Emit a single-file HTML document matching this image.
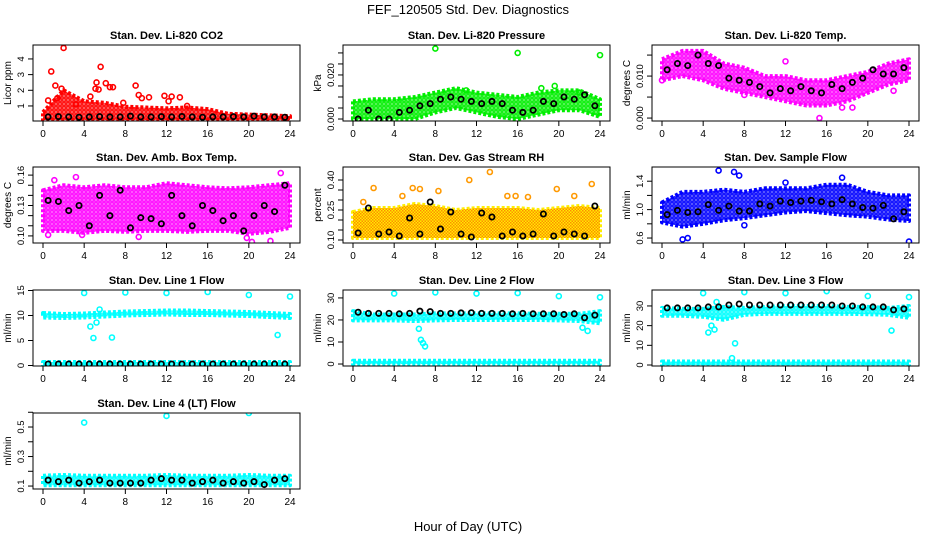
<!DOCTYPE html>
<html><head><meta charset="utf-8"><style>
body{margin:0;background:#fff;}
svg{display:block;font-family:"Liberation Sans",Arial,sans-serif;}
</style></head><body>
<svg id="c" width="936" height="540" viewBox="0 0 936 540">
<text x="468" y="14" text-anchor="middle" font-size="13">FEF_120505  Std. Dev. Diagnostics</text>
<text x="468" y="531" text-anchor="middle" font-size="13">Hour of Day (UTC)</text>
</svg>
<script>
// shared time bases (hours)
const bandHours=[0,2,4,6,8,10,12,14,16,18,20,22,24];
const blackHours=[0.5,1.5,2.5,3.5,4.5,5.5,6.5,7.5,8.5,9.5,10.5,11.5,12.5,13.5,14.5,15.5,16.5,17.5,18.5,19.5,20.5,21.5,22.5,23.5];
const xTicks=[0,4,8,12,16,20,24];

// P1 CO2
const co2Lo=[0.1,0.1,0.1,0.1,0.1,0.1,0.1,0.1,0.1,0.1,0.1,0.1,0.1];
const co2Hi=[0.6,2.0,1.3,1.2,0.95,0.9,0.85,0.9,0.8,0.5,0.45,0.4,0.35];
const co2OutX=[2,0.8,1.2,5.6,5.2,5.1,5.4,6.1,6.5,6.8,9,4.6,0.5,9.3,10.3,11.8,13.3,12.5,1.8,1.4,3.2,7.8,12.2,9.6,14];
const co2OutY=[4.7,3.2,2.3,3.5,2.5,2.1,2.05,2.45,2.2,2.2,2.3,1.6,1.35,1.7,1.55,1.65,1.55,1.6,2.1,1.5,1.1,1.2,1.3,1.5,1.0];
const co2Black=[0.3,0.32,0.3,0.28,0.3,0.32,0.3,0.3,0.35,0.3,0.3,0.32,0.3,0.33,0.3,0.28,0.3,0.3,0.32,0.3,0.35,0.3,0.3,0.28];
// P2 Pressure
const prLo=[0.000,0.000,0.000,0.000,0.003,0.005,0.003,0.001,0.000,0.002,0.004,0.004,0.001];
const prHi=[0.008,0.009,0.009,0.010,0.012,0.014,0.012,0.011,0.010,0.012,0.013,0.013,0.009];
const prOutX=[8,16,24,19.6,18.3,11,22];
const prOutY=[0.032,0.030,0.029,0.015,0.014,0.013,0.012];
const prBlack=[0,0.004,0,0,0.003,0.004,0.006,0.007,0.009,0.010,0.009,0.008,0.007,0.008,0.007,0.004,0.003,0.004,0.008,0.007,0.010,0.009,0.011,0.006];
// P3 Temp
const tpLo=[0.009,0.010,0.009,0.007,0.006,0.005,0.004,0.003,0.003,0.004,0.006,0.008,0.009];
const tpHi=[0.014,0.016,0.016,0.013,0.012,0.010,0.010,0.009,0.009,0.010,0.011,0.013,0.014];
const tpOutX=[15.3,12,8,17.5,18.5,0,22.5];
const tpOutY=[0.0,0.0135,0.0055,0.0025,0.0025,0.009,0.0065];
const tpBlack=[0.0115,0.013,0.0125,0.015,0.013,0.0125,0.0095,0.009,0.0085,0.0075,0.006,0.007,0.0065,0.0075,0.0065,0.006,0.008,0.007,0.0085,0.0095,0.0115,0.0105,0.0105,0.012];
// P4 Ambient box temp
const abLo=[0.105,0.105,0.103,0.105,0.104,0.105,0.105,0.104,0.105,0.105,0.102,0.104,0.108];
const abHi=[0.145,0.15,0.148,0.15,0.148,0.148,0.152,0.15,0.148,0.147,0.148,0.15,0.152];
const abOutX=[0.5,1.1,3.2,23.1,19.8,20.3,22.1,3.8,9.3];
const abOutY=[0.101,0.155,0.158,0.162,0.098,0.094,0.095,0.101,0.099];
const abBlack=[0.135,0.134,0.125,0.13,0.11,0.14,0.12,0.145,0.108,0.118,0.117,0.112,0.14,0.12,0.11,0.13,0.125,0.115,0.12,0.105,0.12,0.13,0.124,0.15];
// P5 Gas stream RH
const rhLo=[0.11,0.11,0.11,0.11,0.11,0.11,0.11,0.11,0.11,0.11,0.11,0.11,0.11];
const rhHi=[0.24,0.26,0.26,0.28,0.27,0.25,0.26,0.26,0.26,0.25,0.26,0.27,0.26];
const rhOutX=[2,4.8,5.8,6.5,8.3,11.3,13.3,15,15.8,17,19.8,21.5,23.2,1];
const rhOutY=[0.36,0.32,0.36,0.355,0.345,0.40,0.44,0.32,0.32,0.315,0.355,0.32,0.38,0.29];
const rhBlack=[0.135,0.26,0.13,0.14,0.12,0.21,0.13,0.29,0.155,0.24,0.13,0.115,0.235,0.215,0.12,0.14,0.12,0.13,0.23,0.12,0.14,0.13,0.12,0.27];
// P6 Sample flow
const sfLo=[0.82,0.76,0.8,0.85,0.88,0.92,0.96,0.98,0.95,0.92,0.9,0.86,0.84];
const sfHi=[1.1,1.25,1.25,1.28,1.25,1.3,1.3,1.3,1.35,1.35,1.25,1.2,1.2];
const sfOutX=[2,2.5,5.5,7,7.5,8,24,17.5,12];
const sfOutY=[0.58,0.6,1.55,1.53,1.48,0.78,0.55,1.45,1.38];
const sfBlack=[0.93,0.99,0.96,0.97,1.07,0.99,1.05,0.98,0.98,1.08,1.05,1.12,1.1,1.12,1.13,1.11,1.08,1.14,1.08,1.03,1.02,1.06,0.87,0.97];
// P7 Line 1
const l1Lo=[9.6,9.5,9.6,9.8,10,10.1,10.2,10.1,10.1,10,9.9,9.7,9.5];
const l1Hi=[10.5,10.3,10.4,10.6,10.8,10.9,11,11,10.9,10.8,10.7,10.5,10.3];
const l1bLo=[0,0,0,0,0,0,0,0,0,0,0,0,0];
const l1bHi=[0.7,0.7,0.7,0.7,0.7,0.7,0.7,0.7,0.7,0.7,0.7,0.7,0.7];
const l1OutX=[4,8,12,16,20,24,4.6,4.9,5.2,6.7,22.8,5.5];
const l1OutY=[14.5,14.6,14.5,14.7,14.1,13.8,7.8,5.5,8.6,5.6,6.1,11.2];
const l1Black=[0.3,0.3,0.3,0.3,0.3,0.3,0.3,0.3,0.3,0.3,0.3,0.3,0.3,0.3,0.3,0.3,0.3,0.3,0.3,0.3,0.3,0.3,0.3,0.3];
// P8 Line 2
const l2Lo=[19.8,19.8,19.8,19.5,19.8,20,20,20,20,20,19.8,19.5,18.5];
const l2Hi=[24,22.5,22.5,22.5,23,23,23,23,23,22.8,22.8,22.8,24];
const l2bLo=[0,0,0,0,0,0,0,0,0,0,0,0,0];
const l2bHi=[1.5,1.5,1.5,1.5,1.5,1.5,1.5,1.5,1.5,1.5,1.5,1.5,1.5];
const l2OutX=[4,8,12,16,20,24,6.6,6.8,7,6.4,22.3,22.8];
const l2OutY=[32,32.5,32,32.2,30.8,30.3,11,9.5,8,16,16.5,15];
const l2Black=[23.5,23,23,23,22.8,23,24,23.8,23,23,23.2,23.3,23,23,23,22.8,23,22.8,22.8,22.8,22.5,22.8,21,22.2];
// P9 Line 3
const l3Lo=[25,25,24.5,23,25.5,26,26,26,26,26,25.8,25.5,24];
const l3Hi=[29,28.5,28.5,29.5,29,29.5,30,30,30,29.5,29.5,29,30];
const l3bLo=[0,0,0,0,0,0,0,0,0,0,0,0,0];
const l3bHi=[1.8,1.8,1.8,1.8,1.8,1.8,1.8,1.8,1.8,1.8,1.8,1.8,1.8];
const l3OutX=[4,8,12,16,20,24,4.5,4.8,5.1,6.8,7.1,22.3,5.3];
const l3OutY=[36.5,37,36.5,37.5,35,34.5,16.5,20,18,3.5,11,17.5,32];
const l3Black=[29,29,29,29,29.5,29.5,30.5,31,30.5,30.5,30.5,30.5,30.5,30.5,30.5,30.5,30.5,30,30,29.5,29.5,29.5,28,28.5];
// P10 Line 4
const l4Lo=[0.105,0.105,0.105,0.105,0.105,0.105,0.105,0.105,0.105,0.105,0.105,0.105,0.105];
const l4Hi=[0.17,0.175,0.17,0.17,0.17,0.17,0.175,0.17,0.17,0.17,0.175,0.17,0.17];
const l4OutX=[4,12,20];
const l4OutY=[0.53,0.575,0.595];
const l4Black=[0.14,0.13,0.14,0.12,0.13,0.14,0.12,0.12,0.12,0.12,0.14,0.15,0.14,0.14,0.12,0.13,0.14,0.12,0.13,0.12,0.13,0.11,0.14,0.15];

const NS='http://www.w3.org/2000/svg';
const svg=document.getElementById('c');
function el(tag,attrs,parent){const e=document.createElementNS(NS,tag);for(const k in attrs)e.setAttribute(k,attrs[k]);(parent||svg).appendChild(e);return e;}
const colL=[33,343,652], rowT=[45,167,290,413], W=267, H=76;
const defs=el('defs',{});
let patN=0;
function ringPattern(color){
  const id='rp'+(patN++);
  const pat=el('pattern',{id:id,width:4,height:4,patternUnits:'userSpaceOnUse'},defs);
  el('rect',{x:0,y:0,width:4,height:4,fill:color,'fill-opacity':0.55},pat);
  el('circle',{cx:2,cy:2,r:1.3,fill:'none',stroke:color,'stroke-width':1.2},pat);
  return id;
}
const dotPat=el('pattern',{id:'dotpat',width:3,height:3,patternUnits:'userSpaceOnUse'},defs);
el('rect',{x:0,y:0,width:1.5,height:1.5,fill:'#ff8c00'},dotPat);
el('rect',{x:1.5,y:1.5,width:1.5,height:1.5,fill:'#ff8c00'},dotPat);

function panel(p){
  const L=colL[p.col], T=rowT[p.row];
  const g=el('g',{});
  
  
  const xs=v=>L+10+v/24*(W-20);
  const ys=v=>T+H-(v-p.ymin)/(p.ymax-p.ymin)*H;
  const cp=el('clipPath',{id:'cp'+p.name},g);
  el('rect',{x:L,y:T,width:W,height:H},cp);
  const d=el('g',{'clip-path':'url(#cp'+p.name+')'},g);
  p.bands.forEach((b,bi)=>{
    let pts=bandHours.map((h,i)=>xs(h)+','+ys(b.hi[i]));
    pts=pts.concat(bandHours.slice().reverse().map((h,i)=>xs(h)+','+ys(b.lo[bandHours.length-1-i])));
    const fill=b.dots?b.color:'url(#'+ringPattern(b.color)+')';
    const poly=el('polygon',{points:pts.join(' '),fill:fill,stroke:b.color,'stroke-width':4,'stroke-linejoin':'round','stroke-dasharray':'3 2'},d);
    
    
    if(b.dots){
      const poly2=el('polygon',{points:pts.join(' '),fill:'url(#dotpat)',stroke:'none'},d);
      
      
    }
  });
  p.outX.forEach((x,i)=>{
    const c=el('circle',{cx:xs(x),cy:ys(p.outY[i]),r:2.5,fill:'none',stroke:p.outColor,'stroke-width':1.6},d);
    
    
  });
  p.black.forEach((v,i)=>{
    const c=el('circle',{cx:xs(blackHours[i]),cy:ys(v),r:2.6,fill:'none',stroke:'#000','stroke-width':1.8},d);
    
    
  });
  const box=el('rect',{x:L,y:T,width:W,height:H,fill:'none',stroke:'#000','stroke-width':1},g);
  
  
  const t=el('text',{x:L+W/2,y:T-6,'text-anchor':'middle','font-size':11,'font-weight':'bold'},g);
  t.textContent=p.title;
  
  
  el('line',{x1:xs(0),x2:xs(24),y1:T+H,y2:T+H,stroke:'#000'},g);
  xTicks.forEach(v=>{
    el('line',{x1:xs(v),x2:xs(v),y1:T+H,y2:T+H+5,stroke:'#000'},g);
    const tl=el('text',{x:xs(v),y:T+H+16,'text-anchor':'middle','font-size':10},g);
    tl.textContent=v;
    
    
  });
  el('line',{x1:L,x2:L,y1:ys(p.yt[0]),y2:ys(p.yt[p.yt.length-1]),stroke:'#000'},g);
  p.yt.forEach(v=>el('line',{x1:L-5,x2:L,y1:ys(v),y2:ys(v),stroke:'#000'},g));
  p.yl.forEach((v,i)=>{
    const y=ys(v);
    const tl=el('text',{x:L-9,y:y,'text-anchor':'middle','font-size':9.5,transform:'rotate(-90 '+(L-9)+' '+y+')'},g);
    tl.textContent=p.ylText[i];
    
    
  });
  const yt=el('text',{x:L-22,y:T+H/2,'text-anchor':'middle','font-size':10,transform:'rotate(-90 '+(L-22)+' '+(T+H/2)+')'},g);
  yt.textContent=p.ylabel;
  
  
}

const M='#ff00ff', C='#00ffff';
panel({name:'co2',col:0,row:0,title:'Stan. Dev. Li-820 CO2',ylabel:'Licor ppm',ymin:0.04,ymax:4.89,yt:[1,2,3,4],yl:[1,2,3,4],ylText:['1','2','3','4'],bands:[{lo:co2Lo,hi:co2Hi,color:'#ff0000'}],outX:co2OutX,outY:co2OutY,outColor:'#ff0000',black:co2Black});
panel({name:'pressure',col:1,row:0,title:'Stan. Dev. Li-820 Pressure',ylabel:'kPa',ymin:-0.0009,ymax:0.0336,yt:[0,0.005,0.01,0.015,0.02,0.025,0.03],yl:[0,0.02],ylText:['0.000','0.020'],bands:[{lo:prLo,hi:prHi,color:'#00ee00'}],outX:prOutX,outY:prOutY,outColor:'#00ee00',black:prBlack});
panel({name:'licor-temp',col:2,row:0,title:'Stan. Dev. Li-820 Temp.',ylabel:'degrees C',ymin:-0.0007,ymax:0.0174,yt:[0,0.005,0.01,0.015],yl:[0,0.01],ylText:['0.000','0.010'],bands:[{lo:tpLo,hi:tpHi,color:M}],outX:tpOutX,outY:tpOutY,outColor:M,black:tpBlack});
panel({name:'amb-box-temp',col:0,row:1,title:'Stan. Dev. Amb. Box Temp.',ylabel:'degrees C',ymin:0.093,ymax:0.168,yt:[0.10,0.11,0.12,0.13,0.14,0.15,0.16],yl:[0.10,0.13,0.16],ylText:['0.10','0.13','0.16'],bands:[{lo:abLo,hi:abHi,color:M}],outX:abOutX,outY:abOutY,outColor:M,black:abBlack});
panel({name:'gas-rh',col:1,row:1,title:'Stan. Dev. Gas Stream RH',ylabel:'percent',ymin:0.085,ymax:0.465,yt:[0.10,0.15,0.20,0.25,0.30,0.35,0.40],yl:[0.10,0.25,0.40],ylText:['0.10','0.25','0.40'],bands:[{lo:rhLo,hi:rhHi,color:'#ffee00',dots:true}],outX:rhOutX,outY:rhOutY,outColor:'#ff9900',black:rhBlack});
panel({name:'sample-flow',col:2,row:1,title:'Stan. Dev. Sample Flow',ylabel:'ml/min',ymin:0.53,ymax:1.60,yt:[0.6,0.8,1.0,1.2,1.4],yl:[0.6,1.0,1.4],ylText:['0.6','1.0','1.4'],bands:[{lo:sfLo,hi:sfHi,color:'#0000ff'}],outX:sfOutX,outY:sfOutY,outColor:'#0000ff',black:sfBlack});
panel({name:'line1-flow',col:0,row:2,title:'Stan. Dev. Line 1 Flow',ylabel:'ml/min',ymin:-0.1,ymax:15.1,yt:[0,5,10,15],yl:[0,5,10,15],ylText:['0','5','10','15'],bands:[{lo:l1Lo,hi:l1Hi,color:C},{lo:l1bLo,hi:l1bHi,color:C}],outX:l1OutX,outY:l1OutY,outColor:C,black:l1Black});
panel({name:'line2-flow',col:1,row:2,title:'Stan. Dev. Line 2 Flow',ylabel:'ml/min',ymin:-0.9,ymax:33.6,yt:[0,10,20,30],yl:[0,10,20,30],ylText:['0','10','20','30'],bands:[{lo:l2Lo,hi:l2Hi,color:C},{lo:l2bLo,hi:l2bHi,color:C}],outX:l2OutX,outY:l2OutY,outColor:C,black:l2Black});
panel({name:'line3-flow',col:2,row:2,title:'Stan. Dev. Line 3 Flow',ylabel:'ml/min',ymin:-0.5,ymax:38.1,yt:[0,10,20,30],yl:[0,10,20,30],ylText:['0','10','20','30'],bands:[{lo:l3Lo,hi:l3Hi,color:C},{lo:l3bLo,hi:l3bHi,color:C}],outX:l3OutX,outY:l3OutY,outColor:C,black:l3Black});
panel({name:'line4-flow',col:0,row:3,title:'Stan. Dev. Line 4 (LT) Flow',ylabel:'ml/min',ymin:0.08,ymax:0.595,yt:[0.1,0.2,0.3,0.4,0.5,0.6],yl:[0.1,0.3,0.5],ylText:['0.1','0.3','0.5'],bands:[{lo:l4Lo,hi:l4Hi,color:C}],outX:l4OutX,outY:l4OutY,outColor:C,black:l4Black});
</script>
</body></html>
